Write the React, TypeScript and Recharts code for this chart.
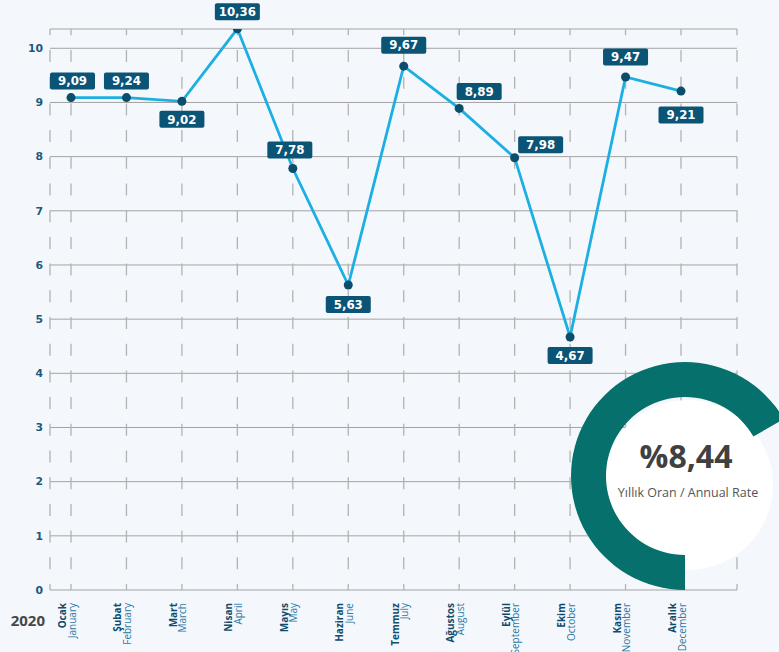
import React from 'react';
import { LineChart, Line, XAxis, YAxis, CartesianGrid, LabelList, PieChart, Pie, Cell } from 'recharts';

// ---- data ----
const monthsTr = ['Ocak', 'Şubat', 'Mart', 'Nisan', 'Mayıs', 'Haziran', 'Temmuz', 'Ağustos', 'Eylül', 'Ekim', 'Kasım', 'Aralık'];
const monthsEn = ['January', 'February', 'March', 'April', 'May', 'June', 'July', 'August', 'September', 'October', 'November', 'December'];
// plotted point heights as drawn
const values = [9.09, 9.09, 9.02, 10.36, 7.78, 5.63, 9.67, 8.89, 7.98, 4.67, 9.47, 9.21];
// printed value labels
const valueLabels = ['9,09', '9,24', '9,02', '10,36', '7,78', '5,63', '9,67', '8,89', '7,98', '4,67', '9,47', '9,21'];
const yTicks = [0, 1, 2, 3, 4, 5, 6, 7, 8, 9, 10];
const yearLabel = '2020';
const annualRateText = '%8,44';
const annualRateValue = [{ name: 'annual', value: 8.44 }];
const annualCaption = 'Yıllık Oran / Annual Rate';

// ---- layout config (label box offsets relative to point) ----
const labelOffsets: [number, number][] = [
  [1.5, -16.5], [0, -16.5], [0, 18], [0, -17], [-3, -18.5], [0, 19.5],
  [0, -21], [20, -17], [26, -13], [0, 18.5], [0, -20], [0, 24],
];

const W = 779;
const H = 652;
const BG = '#f4f7fc';

const data = monthsTr.map((m, i) => ({ tr: m, en: monthsEn[i], value: values[i], label: valueLabels[i] }));

function MonthTick(props: any) {
  const { x, y, payload } = props;
  const i = payload.index;
  return (
    <g transform={`translate(${x},${y})`}>
      <text transform="rotate(-90)" textAnchor="end" x={0} y={-5} fontFamily="'Open Sans', sans-serif" fontSize={10} fontWeight={700} fill="#0f4d6c">
        {monthsTr[i]}
      </text>
      <text transform="rotate(-90)" textAnchor="end" x={0} y={4.5} fontFamily="'Open Sans', sans-serif" fontSize={10} fontWeight={400} fill="#2a7aa2">
        {monthsEn[i]}
      </text>
    </g>
  );
}

function ValueLabel(props: any) {
  const { x, y, index } = props;
  const [dx, dy] = labelOffsets[index];
  const w = 45;
  const h = 17;
  const cx = x + dx;
  const cy = y + dy;
  return (
    <g>
      <rect x={cx - w / 2} y={cy - h / 2} width={w} height={h} rx={2} fill="#0a5475" />
      <text x={cx} y={cy + 4.3} textAnchor="middle" fontFamily="'DejaVu Sans', sans-serif" fontWeight={700} fontSize={11.8} fill="#ffffff">
        {valueLabels[index]}
      </text>
    </g>
  );
}

export default function App() {
  return (
    <div style={{ position: 'absolute', left: 0, top: 0, width: W, height: H, background: BG, overflow: 'hidden' }}>
      <div style={{ position: 'absolute', left: 0, top: 0 }}>
        <LineChart width={W} height={H} data={data} margin={{ top: 29, right: 42, left: 0, bottom: 0 }}>
          <CartesianGrid vertical={false} stroke="#a3a3a3" strokeWidth={1} />
          <CartesianGrid horizontal={false} stroke="#b3b3b3" strokeWidth={1.3} strokeDasharray="12 14.7" strokeDashoffset={5.7} />
          <XAxis
            dataKey="tr"
            type="category"
            padding={{ left: 21, right: 56 }}
            height={62}
            axisLine={false}
            tickLine={false}
            tickSize={0}
            tickMargin={13}
            interval={0}
            tick={<MonthTick />}
          />
          <YAxis
            type="number"
            domain={[0, 10.356]}
            ticks={yTicks}
            allowDataOverflow
            width={50}
            axisLine={false}
            tickLine={false}
            tickSize={0}
            tickMargin={7}
            tick={{ fontFamily: "'DejaVu Sans', sans-serif", fontSize: 10.8, fontWeight: 700, fill: '#1d5a7c' }}
          />
          <Line
            type="linear"
            dataKey="value"
            stroke="#1cb0e2"
            strokeWidth={2.8}
            dot={{ r: 4.5, fill: '#0b4d6b', stroke: 'none' }}
            activeDot={false}
            isAnimationActive={false}
          >
            <LabelList dataKey="label" content={<ValueLabel />} />
          </Line>
        </LineChart>
      </div>
      <div style={{ position: 'absolute', left: 0, top: 0 }}>
        <PieChart width={W} height={H} margin={{ top: 0, right: 0, bottom: 0, left: 0 }}>
          <Pie
            data={annualRateValue}
            dataKey="value"
            cx={688}
            cy={485}
            innerRadius={0}
            outerRadius={85}
            startAngle={0}
            endAngle={360}
            stroke="none"
            isAnimationActive={false}
          >
            <Cell fill="#ffffff" />
          </Pie>
          <Pie
            data={annualRateValue}
            dataKey="value"
            cx={685}
            cy={476}
            innerRadius={79}
            outerRadius={114}
            startAngle={30}
            endAngle={270}
            stroke="none"
            isAnimationActive={false}
          >
            <Cell fill="#06716c" />
          </Pie>
        </PieChart>
      </div>
      <svg width={W} height={H} style={{ position: 'absolute', left: 0, top: 0, pointerEvents: 'none' }}>
        <text x={45} y={626} textAnchor="end" fontFamily="'Open Sans', sans-serif" fontWeight={700} fontSize={15} fill="#474747">
          {yearLabel}
        </text>
        <text x={686} y={468} textAnchor="middle" fontFamily="'Open Sans', sans-serif" fontWeight={700} fontSize={32} fill="#404040">
          {annualRateText}
        </text>
        <text x={688} y={497} textAnchor="middle" fontFamily="'Open Sans', sans-serif" fontWeight={400} fontSize={12.5} fill="#555555">
          {annualCaption}
        </text>
      </svg>
    </div>
  );
}
